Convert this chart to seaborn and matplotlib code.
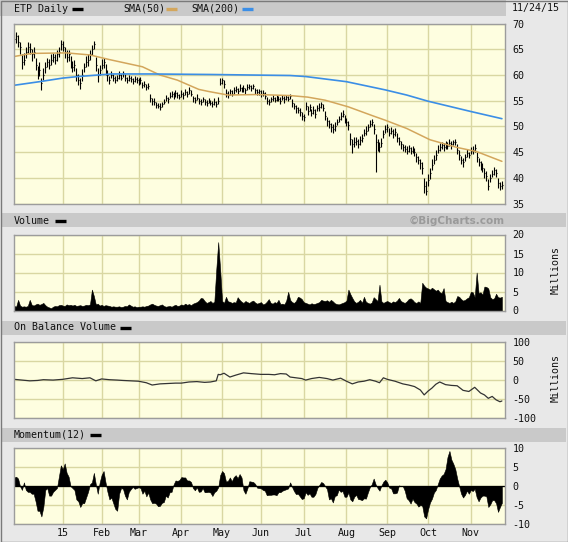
import numpy as np
import pandas as pd
import matplotlib
matplotlib.use("Agg")
import matplotlib.pyplot as plt
import seaborn as sns
from matplotlib.patches import Rectangle
from matplotlib.lines import Line2D

# ---------------- data ----------------
holidays = ['2014-11-27', '2014-12-25', '2015-01-01', '2015-01-19', '2015-02-16',
            '2015-04-03', '2015-05-25', '2015-07-03', '2015-09-07']

close = [
    67.0, 67.5, 66.5, 65.5, 62.5, 63.0, 64.5, 65.5, 65.0, 64.0,
    64.5, 62.0, 60.5, 61.0, 58.5, 60.0, 61.5, 62.5, 62.0, 63.0,
    63.5, 63.0, 64.0, 64.5, 66.0, 65.5, 64.5, 63.5, 64.0, 62.5,
    61.5, 62.0, 60.0, 59.0, 58.5, 60.0, 61.5, 62.5, 63.0, 64.0,
    65.0, 66.0, 62.0, 60.0, 61.0, 62.0, 62.5, 61.0, 60.0, 59.0,
    60.0, 59.5, 59.0, 59.5, 60.0, 59.5, 60.3, 59.5, 59.0, 59.5,
    59.2, 58.8, 59.3, 59.0, 58.7, 59.0, 58.0, 58.3, 57.6, 57.8,
    55.5, 55.0, 54.8, 54.2, 54.0, 53.8, 54.3, 54.8, 55.5, 55.3,
    56.0, 56.3, 55.9, 56.5, 56.2, 55.8, 56.4, 56.1, 56.6, 56.3,
    57.0, 56.4, 55.5, 55.2, 55.6, 55.0, 54.8, 55.3, 54.8, 54.5,
    55.1, 54.6, 54.4, 54.8, 54.3, 54.9, 58.5, 59.0, 58.2, 56.5,
    56.2, 56.8, 56.4, 57.0, 57.3, 56.9, 57.5, 57.2, 57.4, 57.0,
    57.6, 57.8, 57.4, 57.9, 57.0, 56.6, 56.8, 56.3, 56.5, 56.0,
    55.0, 54.7, 55.3, 55.6, 55.2, 55.5, 55.4, 55.0, 55.6, 55.3,
    55.7, 55.4, 56.0, 54.5, 54.0, 53.5, 53.2, 52.8, 52.0, 51.8,
    54.0, 53.0, 53.8, 52.6, 53.2, 52.4, 53.5, 53.8, 54.3, 53.6,
    52.0, 51.0, 50.5, 49.8, 49.5, 50.0, 50.8, 51.5, 52.0, 52.5,
    51.5, 50.8, 50.3, 47.5, 46.5, 47.0, 47.2, 46.6, 47.3, 47.8,
    48.8, 49.2, 49.8, 50.5, 50.8, 49.5, 47.0, 46.5, 46.0, 46.8,
    48.5, 49.5, 49.8, 48.8, 49.2, 48.6, 48.9, 47.8, 47.2, 46.5,
    46.0, 45.6, 45.3, 45.8, 45.2, 45.5, 45.0, 44.0, 43.5, 42.8,
    42.0, 38.5, 37.5, 39.5, 41.0, 42.5, 43.5, 44.5, 45.5, 46.0,
    46.3, 46.0, 46.5, 46.2, 46.8, 46.5, 46.9, 47.0, 45.5, 44.5,
    43.5, 43.0, 44.0, 44.8, 44.5, 45.2, 45.5, 45.8, 44.0, 43.0,
    42.5, 42.0, 41.0, 40.3, 38.5, 40.0, 40.8, 41.5, 41.0, 39.0,
    38.5, 38.6]

# closes of the 12 sessions before the window (for Momentum(12))
prior_close = [64.7, 65.0, 64.5, 65.5, 63.5, 62.0, 65.5, 67.0, 66.5, 66.0, 66.5, 66.0]

bar_up = [
    1.0, 0.8, 1.2, 1.0, 1.5, 1.2, 1.0, 0.9, 1.3, 1.1,
    1.0, 1.4, 1.2, 1.5, 1.0, 1.3, 1.1, 0.9, 1.2, 1.0,
    0.8, 1.1, 0.9, 1.0, 0.8, 1.2, 1.0, 1.3, 0.9, 1.1,
    1.2, 1.0, 1.4, 1.1, 1.0, 1.2, 0.9, 1.1, 1.0, 0.8,
    0.9, 0.7, 1.5, 1.3, 1.0, 1.1, 0.8, 1.2, 1.0, 0.9,
    0.7, 0.6, 0.8, 0.5, 0.7, 0.6, 0.5, 0.7, 0.6, 0.5,
    0.6, 0.7, 0.5, 0.6, 0.8, 0.6, 0.7, 0.5, 0.6, 0.7,
    0.8, 0.6, 0.7, 0.5, 0.6, 0.7, 0.5, 0.6, 0.7, 0.5,
    0.6, 0.5, 0.7, 0.6, 0.5, 0.6, 0.7, 0.5, 0.6, 0.5,
    0.7, 0.6, 0.5, 0.6, 0.7, 0.5, 0.6, 0.5, 0.6, 0.7,
    0.5, 0.6, 0.5, 0.7, 0.6, 0.8, 1.0, 0.5, 0.8, 0.7,
    0.6, 0.5, 0.7, 0.6, 0.5, 0.6, 0.7, 0.5, 0.6, 0.5,
    0.6, 0.5, 0.6, 0.4, 0.5, 0.6, 0.5, 0.7, 0.5, 0.6,
    0.7, 0.6, 0.5, 0.6, 0.5, 0.6, 0.5, 0.7, 0.5, 0.6,
    0.5, 0.6, 0.4, 0.8, 0.6, 0.7, 0.6, 0.7, 0.8, 0.6,
    0.7, 0.9, 0.6, 0.8, 0.7, 0.9, 0.6, 0.7, 0.5, 0.8,
    0.9, 0.8, 0.7, 0.8, 0.9, 0.8, 0.7, 0.6, 0.8, 0.6,
    0.8, 0.9, 0.7, 1.2, 1.0, 0.9, 0.8, 1.0, 0.9, 0.8,
    0.7, 0.8, 0.6, 0.7, 0.6, 0.9, 1.5, 1.0, 0.9, 1.0,
    0.8, 0.7, 0.6, 0.8, 0.7, 0.8, 0.7, 0.9, 0.8, 0.7,
    0.6, 0.7, 0.8, 0.6, 0.7, 0.6, 0.8, 0.9, 0.8, 0.9,
    1.0, 1.5, 1.8, 1.2, 1.0, 1.1, 1.0, 0.9, 0.8, 0.7,
    0.7, 0.8, 0.6, 0.7, 0.8, 0.6, 0.5, 0.5, 1.0, 0.9,
    0.8, 0.9, 0.7, 0.8, 0.6, 0.7, 0.6, 0.8, 1.0, 0.9,
    0.8, 0.9, 0.9, 1.0, 1.2, 0.8, 0.7, 0.6, 0.8, 1.0,
    0.7, 0.8]

bar_dn = [
    0.9, 1.2, 1.0, 1.4, 1.3, 1.0, 1.1, 1.2, 0.9, 1.3,
    1.2, 1.0, 1.3, 1.1, 1.5, 1.0, 1.2, 1.0, 0.9, 1.1,
    1.0, 0.9, 1.2, 1.0, 1.1, 0.9, 1.2, 1.0, 1.3, 1.1,
    1.0, 1.2, 1.1, 1.0, 1.3, 1.1, 1.0, 0.9, 1.2, 1.0,
    1.1, 1.0, 1.3, 1.4, 1.0, 0.9, 1.1, 1.0, 1.2, 0.8,
    0.6, 0.7, 0.5, 0.6, 0.7, 0.5, 0.6, 0.7, 0.5, 0.6,
    0.5, 0.6, 0.7, 0.5, 0.6, 0.7, 0.5, 0.6, 0.5, 0.6,
    0.7, 0.8, 0.6, 0.7, 0.5, 0.7, 0.6, 0.5, 0.6, 0.7,
    0.5, 0.6, 0.5, 0.7, 0.6, 0.5, 0.6, 0.7, 0.5, 0.6,
    0.6, 0.5, 0.7, 0.6, 0.5, 0.6, 0.7, 0.5, 0.6, 0.5,
    0.6, 0.5, 0.7, 0.6, 0.5, 0.6, 0.5, 0.7, 0.8, 0.7,
    0.6, 0.7, 0.5, 0.6, 0.7, 0.5, 0.6, 0.5, 0.7, 0.6,
    0.5, 0.6, 0.5, 0.6, 0.7, 0.5, 0.6, 0.5, 0.6, 0.7,
    0.6, 0.5, 0.6, 0.7, 0.5, 0.6, 0.5, 0.6, 0.5, 0.7,
    0.6, 0.5, 0.6, 0.7, 0.6, 0.8, 0.6, 0.7, 0.8, 0.7,
    0.8, 0.7, 0.9, 0.6, 0.8, 0.7, 0.6, 0.8, 0.7, 0.6,
    0.8, 0.9, 0.8, 0.9, 0.7, 0.8, 0.6, 0.7, 0.8, 0.7,
    0.9, 0.8, 1.0, 1.2, 1.7, 1.0, 0.9, 0.8, 0.9, 0.8,
    0.7, 0.8, 0.7, 0.6, 0.8, 0.9, 5.9, 1.2, 1.0, 0.9,
    0.8, 0.7, 0.8, 0.7, 0.6, 0.8, 0.7, 0.8, 0.9, 0.8,
    0.7, 0.6, 0.7, 0.8, 0.6, 0.7, 0.8, 0.9, 0.8, 1.0,
    1.2, 1.5, 0.8, 1.0, 1.2, 0.9, 0.8, 1.0, 0.7, 0.8,
    0.6, 0.7, 0.8, 0.6, 0.7, 0.8, 0.6, 0.7, 0.9, 1.0,
    0.8, 0.9, 0.7, 0.8, 0.7, 0.6, 0.8, 0.7, 0.9, 0.8,
    0.9, 0.8, 1.0, 0.9, 0.9, 0.8, 0.7, 0.9, 0.8, 0.9,
    0.8, 0.7]

volume = [
    1.2, 1.0, 2.8, 1.3, 1.0, 1.1, 1.0, 1.2, 2.8, 1.5,
    1.3, 1.6, 1.8, 1.5, 1.7, 2.0, 1.4, 1.0, 0.8, 0.6,
    1.0, 1.2, 1.1, 1.4, 1.5, 1.3, 1.2, 1.6, 1.4, 1.5,
    1.3, 1.5, 1.2, 1.3, 1.4, 1.2, 1.3, 1.5, 1.4, 1.6,
    5.5, 3.8, 1.6, 1.8, 1.3, 1.5, 1.2, 1.4, 1.3, 1.2,
    1.0, 1.1, 1.0, 1.0, 1.1, 0.9, 1.0, 1.2, 1.1, 1.6,
    1.3, 1.0, 1.1, 0.9, 1.0, 1.0, 1.1, 1.0, 1.2, 1.3,
    1.6, 1.8, 1.5, 1.3, 1.2, 1.4, 1.6, 1.2, 1.0, 1.1,
    1.2, 1.0, 1.3, 1.5, 1.2, 1.3, 1.6, 1.4, 1.8, 1.5,
    1.7, 1.4, 1.8, 2.0, 2.2, 2.6, 3.3, 3.2, 2.5, 2.0,
    2.2, 2.5, 2.0, 2.3, 10.8, 18.0, 10.8, 2.5, 2.0, 3.6,
    2.4, 2.3, 2.0, 2.2, 2.1, 3.5, 2.8, 2.3, 2.0, 2.5,
    2.2, 2.0, 2.4, 2.6, 2.1, 1.8, 2.0, 2.2, 1.6, 1.8,
    2.3, 3.0, 2.0, 1.8, 2.2, 2.0, 2.8, 1.7, 1.8, 1.6,
    2.6, 4.9, 2.8, 2.2, 2.0, 2.5, 3.6, 3.4, 3.0, 2.2,
    2.0, 1.8, 1.6, 1.9, 1.7, 1.8, 2.0, 2.2, 2.8, 2.6,
    2.5, 2.7, 2.3, 2.8, 2.4, 1.9, 1.7, 1.6, 1.8, 2.0,
    2.2, 2.6, 5.5, 4.3, 3.3, 2.4, 2.0, 2.3, 2.8, 2.0,
    3.6, 2.3, 2.0, 1.8, 2.1, 3.5, 3.0, 2.5, 6.8, 2.4,
    2.0, 2.3, 2.5, 2.2, 2.0, 2.4, 2.2, 2.6, 3.3, 2.5,
    2.2, 2.0, 2.4, 3.0, 3.2, 2.8, 2.2, 2.0, 2.4, 2.0,
    7.3, 6.5, 6.0, 5.8, 5.5, 6.0, 5.6, 5.2, 5.5, 4.8,
    4.6, 5.9, 2.5, 2.2, 2.0, 2.3, 2.0, 2.4, 3.8, 3.6,
    3.0, 2.6, 2.8, 3.2, 3.5, 4.9, 4.8, 3.5, 10.0, 4.6,
    4.8, 4.2, 6.3, 6.2, 5.8, 3.5, 3.0, 3.2, 4.4, 3.5,
    3.4, 3.6]

sma50_day = [0, 9, 27, 39, 49, 66, 75, 84, 95, 100, 110, 125, 142, 151, 160, 172, 185, 191, 202, 214, 228, 238, 251]
sma50_val = [63.6, 64.2, 64.3, 63.9, 63.0, 61.6, 60.0, 59.0, 57.2, 56.8, 56.1, 56.2, 56.0, 55.7, 55.1, 53.8, 52.0, 51.2, 49.6, 47.4, 45.9, 45.1, 43.2]

sma200_day = [0, 13, 25, 33, 50, 70, 101, 121, 142, 150, 171, 191, 202, 213, 235, 251]
sma200_val = [58.0, 58.7, 59.4, 59.7, 60.2, 60.2, 60.1, 60.0, 59.9, 59.7, 58.7, 57.1, 56.1, 54.9, 52.9, 51.5]

obv_day = [0, 4, 8, 12, 15, 20, 25, 30, 35, 39,
           42, 45, 49, 53, 56, 60, 64, 68, 71, 75,
           79, 83, 86, 90, 94, 98, 101, 104, 105, 106,
           108, 111, 114, 118, 122, 127, 131, 134, 137, 140,
           142, 145, 148, 150, 153, 157, 161, 164, 168, 171,
           174, 177, 180, 183, 186, 188, 190, 192, 196, 200,
           203, 206, 209, 211, 213, 215, 217, 219, 222, 225,
           228, 231, 234, 237, 240, 242, 244, 246, 248, 250, 251]
obv_val = [1, -1, -3, -2, 0, -1, 1, 5, 3, 5,
           -3, 2, 0, -1, -2, -3, -4, -8, -14, -11,
           -10, -9, -9, -6, -5, -7, -6, -3, 14, 13,
           17, 7, 12, 18, 16, 14, 14, 13, 16, 15,
           7, 5, 3, -1, 3, 6, 3, -1, 4, -4,
           -11, -6, -4, 0, -4, -8, 5, 1, -4, -11,
           -14, -18, -27, -40, -30, -22, -12, -6, -13, -15,
           -16, -28, -31, -20, -35, -40, -49, -44, -53, -58, -56]

price_ticks = [70, 65, 60, 55, 50, 45, 40, 35]
vol_ticks = [20, 15, 10, 5, 0]
obv_ticks = [100, 50, 0, -50, -100]
mom_ticks = [10, 5, 0, -5, -10]

# ---------------- derived series ----------------
days = pd.bdate_range('2014-11-25', '2015-11-24')
days = days[~days.isin(pd.to_datetime(holidays))]
n = len(close)
x = np.arange(n)
c = np.array(close)
hi = c + np.array(bar_up)
lo = c - np.array(bar_dn)
full = np.array(prior_close + close)
mom = full[12:] - full[:-12]

month_pos, month_lab = [], []
for m in range(1, 12):
    idx = np.where((days.year == 2015) & (days.month == m))[0]
    month_pos.append(int(idx[0]))
    month_lab.append('15' if m == 1 else days[idx[0]].strftime('%b'))

# ---------------- figure ----------------
sns.set_theme(style='white')
plt.rcParams['font.family'] = ['DejaVu Sans Mono', 'DejaVu Sans']

W, H = 568, 542
fig = plt.figure(figsize=(W / 100, H / 100), dpi=100)
fig.patch.set_facecolor('#e8e8e8')

BAND = '#c9c9c9'
PANEL = '#fefee0'
GRID = '#d9d7a2'
FS = 7.2


def frect(x0, y0, x1, y1):
    return [x0 / W, 1 - y1 / H, (x1 - x0) / W, (y1 - y0) / H]


def band(x0, y0, x1, y1, color=BAND):
    fig.add_artist(Rectangle((x0 / W, 1 - y1 / H), (x1 - x0) / W, (y1 - y0) / H,
                             transform=fig.transFigure, facecolor=color,
                             edgecolor='none', zorder=0))


def swatch(x0, x1, y, color):
    fig.add_artist(Line2D([x0 / W, x1 / W], [1 - y / H, 1 - y / H],
                          transform=fig.transFigure, color=color, lw=2.4,
                          solid_capstyle='butt'))


def ftext(xp, yp, s, **kw):
    kw.setdefault('fontsize', FS)
    kw.setdefault('va', 'center')
    kw.setdefault('color', '#111111')
    fig.text(xp / W, 1 - yp / H, s, **kw)


def panel(y0, y1, ylim, ticks, labels=None):
    ax = fig.add_axes(frect(14, y0, 505.4, y1))
    ax.set_facecolor(PANEL)
    ax.set_xlim(-0.1, 252.8)
    ax.set_ylim(*ylim)
    ax.set_yticks(ticks)
    ax.set_yticklabels([str(t) for t in ticks] if labels is None else labels)
    ax.yaxis.tick_right()
    ax.tick_params(axis='y', length=0, pad=5, labelsize=FS, colors='#111111')
    ax.set_xticks(month_pos)
    ax.set_xticklabels(month_lab)
    ax.tick_params(axis='x', length=0, labelbottom=False, labelsize=FS,
                   colors='#111111', pad=3)
    ax.grid(True, color=GRID, lw=1.0)
    ax.set_axisbelow(True)
    for s in ax.spines.values():
        s.set_color('#9c9c9c')
        s.set_linewidth(1.0)
    ax.set_xlabel('')
    ax.set_ylabel('')
    return ax


# header bands
band(0, 0, 506, 16)
band(2, 213.5, 566, 227.5)
band(2, 320.5, 566, 334.5)
band(2, 427.5, 566, 441.5)

# --- price panel
axp = panel(23.6, 203.5, (35, 70), price_ticks)
axp.vlines(x, lo, hi, color='black', lw=0.8)
axp.hlines(c, x, x + 0.5, color='black', lw=0.8)
sns.lineplot(x=sma50_day, y=sma50_val, ax=axp, color='#d3a65c', lw=1.1, legend=False)
sns.lineplot(x=sma200_day, y=sma200_val, ax=axp, color='#3b8ee6', lw=1.2, legend=False)
axp.set_xlabel(''); axp.set_ylabel('')

# --- volume panel
axv = panel(234.5, 310.5, (0, 20), vol_ticks)
axv.fill_between(x, 0, volume, color='black', lw=0.4)

# --- OBV panel
axo = panel(341.7, 417.7, (-100, 100), obv_ticks)
sns.lineplot(x=obv_day, y=obv_val, ax=axo, color='#333333', lw=0.9, legend=False)
axo.set_xlabel(''); axo.set_ylabel('')

# --- momentum panel
axm = panel(448.3, 524, (-10, 10), mom_ticks)
axm.fill_between(x, 0, mom, color='black', lw=0.4)
axm.axhline(0, color='black', lw=0.9)
axm.tick_params(axis='x', labelbottom=True)

# header texts
ftext(14, 8.5, 'ETP Daily')
swatch(72, 83, 8.5, 'black')
ftext(123, 8.5, 'SMA(50)')
swatch(166, 177, 8.5, '#d3a65c')
ftext(191, 8.5, 'SMA(200)')
swatch(242, 253, 8.5, '#3b8ee6')
ftext(560, 8.5, '11/24/15', ha='right')

ftext(14, 220.5, 'Volume')
swatch(55, 66, 220.5, 'black')
ftext(505, 220.5, '\u00a9BigCharts.com', ha='right', color='#9a9a9a',
      fontweight='bold', family='DejaVu Sans', fontsize=7.5)

ftext(14, 327.5, 'On Balance Volume')
swatch(120, 131, 327.5, 'black')

ftext(14, 434.5, 'Momentum(12)')
swatch(90, 101, 434.5, 'black')

ftext(556, 270, 'Millions', rotation=90, ha='center')
ftext(556, 378, 'Millions', rotation=90, ha='center')

# outer frame
fig.add_artist(Rectangle((0.5 / W, 0.5 / H), (W - 1) / W, (H - 1) / H,
                         transform=fig.transFigure, facecolor='none',
                         edgecolor='#7a7a7a', lw=1.0, zorder=10))

fig.savefig('out.png', dpi=100, facecolor=fig.get_facecolor())
